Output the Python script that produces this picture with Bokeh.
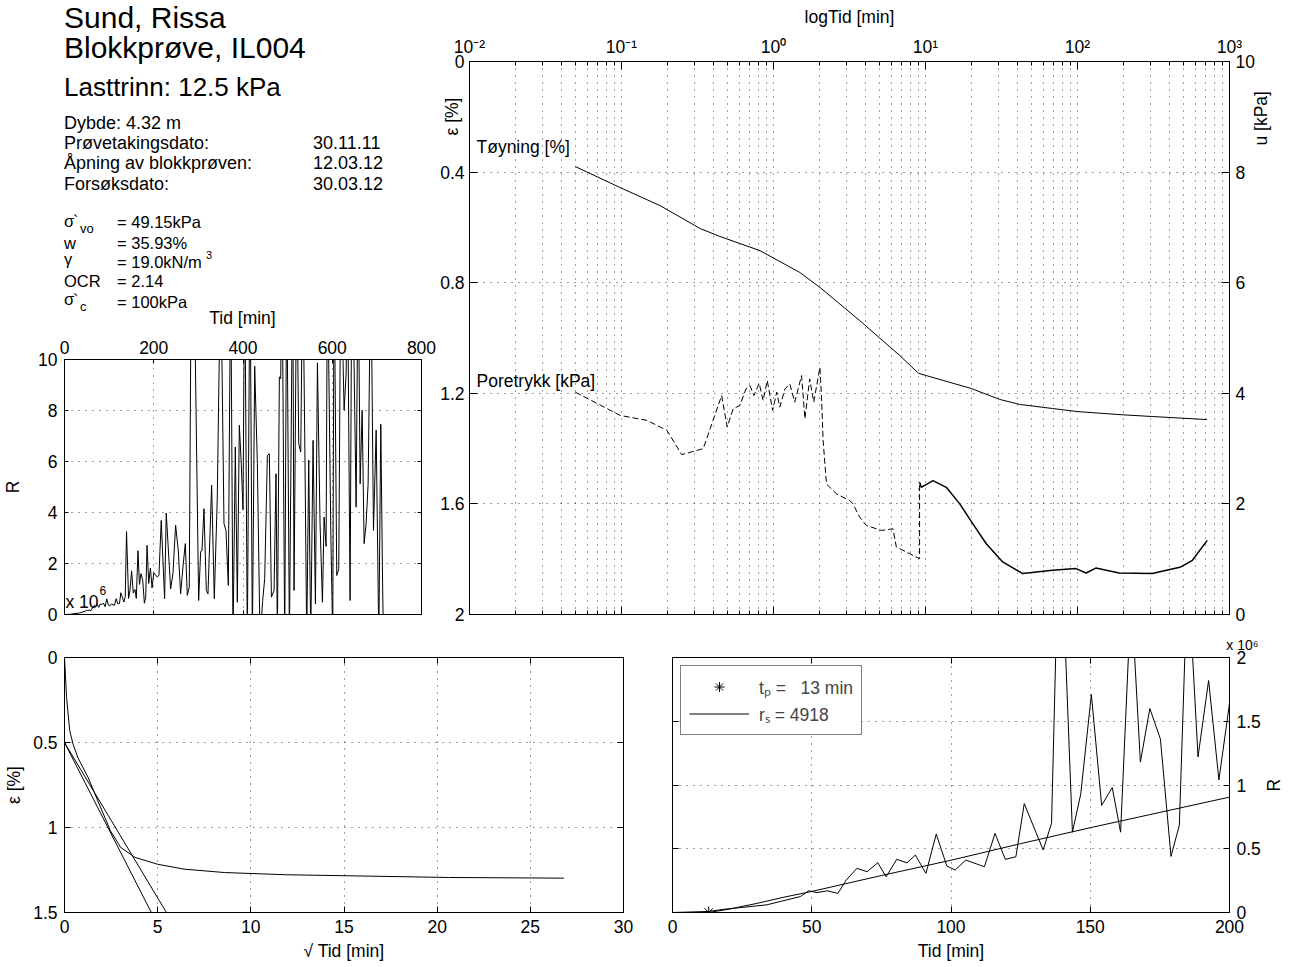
import math
from bokeh.plotting import figure
from bokeh.models import (Range1d, LinearAxis, LogAxis, FixedTicker, Label, Legend, LegendItem,
                          Div, Title)
from bokeh.layouts import row, column
from bokeh.embed import file_html
from bokeh.resources import INLINE
from bokeh.core.properties import value

FONT = "Liberation Sans"
TICK_PX = "17.5px"

# ---------------- data ----------------
# main plot: strain (%) vs log time (min)
strain_tid = [0.0497, 0.098, 0.179, 0.329, 0.445, 0.815, 1.49, 2.02, 3.69, 6.76, 9.01,
              20.1, 30.7, 41.5, 68.4, 99.8, 188, 310, 711]
strain_pct = [0.380, 0.456, 0.521, 0.604, 0.633, 0.684, 0.763, 0.817, 0.937, 1.063, 1.128,
              1.183, 1.222, 1.240, 1.255, 1.266, 1.277, 1.284, 1.295]

# pore pressure (kPa) - sparse early part (dashed) and dense late part
pore1_tid = [0.0497, 0.098, 0.147, 0.199, 0.249, 0.345, 0.456, 0.496, 0.543, 0.601,
             0.659, 0.700, 0.743, 0.805, 0.855, 0.910, 0.987, 1.05, 1.10, 1.19,
             1.28, 1.38, 1.53, 1.61, 1.73, 1.84, 2.02, 2.07, 2.12, 2.23,
             2.35, 2.60, 3.17, 3.32, 3.69, 4.08, 5.13, 6.11, 6.43, 7.48, 9.14, 9.14]
pore1_kpa = [4.02, 3.60, 3.51, 3.33, 2.89, 3.00, 3.96, 3.39, 3.72, 3.78,
             4.08, 4.14, 3.96, 4.18, 3.87, 4.23, 3.69, 4.02, 3.75, 4.08,
             4.17, 3.84, 4.32, 3.54, 4.26, 3.84, 4.47, 3.93, 3.15, 2.36,
             2.30, 2.18, 2.06, 2.01, 1.76, 1.61, 1.52, 1.55, 1.22, 1.13, 1.01, 2.39]
pore2_tid = [9.14, 9.38, 11.2, 13.7, 16.8, 20.5, 25.1, 32.2, 43.6, 68.4, 97.8, 114, 132,
             188, 310, 479, 570, 714]
pore2_kpa = [2.39, 2.30, 2.42, 2.30, 2.00, 1.64, 1.28, 0.95, 0.74, 0.80, 0.83, 0.75, 0.84,
             0.75, 0.74, 0.86, 0.98, 1.34]

# R (x 10^6) vs time (min)
r_tid = [0, 12.8, 18.8, 33.8, 45.9, 48.9, 51.9, 55.6, 59.4, 62.4, 66.2, 69.9, 73.7, 76.7,
         80.5, 84.2, 87.2, 91.0, 94.7, 98.5, 101.5, 105.3, 112.0, 115.8, 119.5, 123.3, 126.3,
         133.1, 136.1, 139.0, 143.6, 146.6, 150.4, 154.1, 157.9, 160.9, 164.7, 168.0, 171.4,
         175.2, 179.0, 182.0, 185.0, 188.7, 192.5, 196.2, 200.0, 207.9, 211.6, 216.8, 224.3,
         228.0, 237.8, 243.0, 249.0, 255.0, 260.2, 266.2, 270.7, 275.2, 279.6, 284.1, 290.1,
         300.6, 305.1, 308.1, 312.5, 317.8, 321.5, 329.7, 335.7, 342.4, 349.9, 357.4, 361.9,
         367.1, 372.4, 377.6, 382.8, 387.3, 391.8, 396.3, 400.0, 403.8, 409.7, 415.7, 421.0,
         426.2, 432.2, 438.2, 444.1, 448.6, 454.6, 459.1, 463.6, 469.6, 474.0, 477.0, 481.5,
         484.5, 487.5, 493.5, 498.0, 504.0, 511.4, 514.4, 520.4, 524.9, 529.4, 533.9, 538.3,
         542.8, 547.3, 551.8, 557.0, 562.3, 566.8, 572.7, 578.0, 581.7, 586.2, 589.2, 596.7,
         601.1, 604.1, 610.1, 614.6, 619.1, 626.6, 631.1, 634.0, 640.0, 643.8, 649.0, 653.5,
         658.0, 662.5, 667.0, 671.4, 675.9, 680.4, 686.4, 692.4, 698.4, 704.3, 708.8, 712.8,
         714.8]
r_val = [0, 0.008, 0.026, 0.06, 0.125, 0.17, 0.156, 0.17, 0.15, 0.255, 0.346, 0.32, 0.39, 0.28,
         0.417, 0.39, 0.45, 0.307, 0.615, 0.365, 0.333, 0.411, 0.359, 0.62, 0.417, 0.437, 0.854,
         0.49, 0.70, 3.25, 0.63, 0.93, 1.71, 0.84, 0.98, 0.63, 2.5, 1.18, 1.60,
         1.36, 0.44, 0.685, 2.71, 1.22, 1.82, 1.04, 1.64, 1.47, 1.53, 3.69, 0.62,
         3.98, 1.0, 1.6, 3.5, 2.5, 0.81, 2.0, 2.78, 0.75, 1.07, 14, 14,
         0.55, 2.47, 2.5, 4.15, 0.94, 0.81, 5.07, 0.62, 4.6, 14, 3.56, 3.3,
         1.14, 14, -1, 6.57, 0.48, 7.42, 5.85, 4.11, 14, -1, 14, -1,
         9.74, 5.92, -1, 0.55, 1.4, 6.24, 6.3, 0.68, 0.94, 5.52, -1, 9.32,
         9.25, 14, -1, 14, -1, 14, 0.94, 14, 6.7, 6.37, 14, 7.1,
         -1, 6.05, -1, 6.83, 0.42, 9.87, 3.56, 0.48, 3.82, 2.67, 14, 3.3,
         -1, 14, 1.53, 1.79, 14, 8.01, 9.45, 14, 0.55, 14, 9.71, 4.21,
         14, 5.13, 8.01, 2.78, 3.56, 5.13, 14, 3.3, 7.23, -1, 7.46, 1.2,
         -1]

# fitted line r_s and t_p
fit_tid = [13, 20, 30, 40, 50, 75, 100, 125, 150, 175, 200]
fit_val = [0, 0.025, 0.07, 0.12, 0.165, 0.29, 0.41, 0.54, 0.665, 0.785, 0.905]
tp_min = 13
tp_R = 0
rs_value = 4918

# strain vs sqrt(time)
sqrt_tid = [0, 0.11, 0.28, 0.46, 0.72, 1.27, 1.93, 2.47, 3.02, 3.79, 4.99, 6.42, 8.6, 11.9,
            16.3, 20.6, 26.8]
sqrt_strain = [0, 0.235, 0.43, 0.51, 0.59, 0.706, 0.88, 1.02, 1.118, 1.176, 1.216, 1.245,
               1.265, 1.278, 1.286, 1.294, 1.298]
tangent1_x = [0, 4.66]
tangent1_y = [0.5, 1.5]
tangent2_x = [0, 5.47]
tangent2_y = [0.5, 1.5]

# ticks / labels
log_decades = [0.01, 0.1, 1, 10, 100, 1000]
log_labels = ["10⁻²", "10⁻¹", "10⁰", "10¹", "10²", "10³"]
log_minor = [m * 10.0 ** e for e in range(-2, 3) for m in range(2, 10)]
eps_ticks = [0, 0.4, 0.8, 1.2, 1.6, 2]
u_ticks = [0, 2, 4, 6, 8, 10]
r_x_ticks = [0, 200, 400, 600, 800]
r_y_ticks = [0, 2, 4, 6, 8, 10]
bl_x_ticks = [0, 5, 10, 15, 20, 25, 30]
bl_y_ticks = [0, 0.5, 1, 1.5]
br_x_ticks = [0, 50, 100, 150, 200]
br_y_ticks = [0, 0.5, 1, 1.5, 2]

info_lines = [
    (64, 28.3, "Sund, Rissa", 30),
    (64, 58.3, "Blokkprøve, IL004", 30),
    (64, 95.7, "Lasttrinn: 12.5 kPa", 26),
    (64, 128.7, "Dybde: 4.32 m", 18),
    (64, 149, "Prøvetakingsdato:", 18), (313, 149, "30.11.11", 18),
    (64, 169.5, "Åpning av blokkprøven:", 18), (313, 169.5, "12.03.12", 18),
    (64, 190, "Forsøksdato:", 18), (313, 190, "30.03.12", 18),
    (64, 226.5, "σ", 16.5), (73, 227, "`", 16), (80, 233, "vo", 13), (117, 228, "= 49.15kPa", 16.5),
    (64, 248.5, "w", 16.5), (117, 249, "= 35.93%", 16.5),
    (64, 265, "γ", 16.5), (117, 268, "= 19.0kN/m", 16.5), (206, 259, "3", 11),
    (64, 287, "OCR", 16.5), (117, 287, "= 2.14", 16.5),
    (64, 305, "σ", 16.5), (73, 306, "`", 16), (80, 311, "c", 13), (117, 308, "= 100kPa", 16.5),
]


# ---------------- helpers ----------------
def base_fig(w, h, bl, br, bt, bb, xr, yr, xtype="linear"):
    p = figure(width=w, height=h, x_range=xr, y_range=yr, x_axis_type=xtype,
               x_axis_location=None, y_axis_location=None,
               output_backend="svg", toolbar_location=None,
               min_border_left=bl, min_border_right=br, min_border_top=bt, min_border_bottom=bb)
    p.outline_line_color = "black"
    p.outline_line_width = 1
    p.background_fill_color = "white"
    p.border_fill_color = "white"
    return p


def add_axis(p, side, ticks, minor=None, labels=True, tick_in=6, minor_in=0, standoff=6,
             log=False, y_range_name=None, overrides=None):
    kw = {}
    if y_range_name:
        kw["y_range_name"] = y_range_name
    ax = LogAxis(**kw) if log else LinearAxis(**kw)
    ax.ticker = FixedTicker(ticks=ticks, minor_ticks=minor or [])
    ax.major_tick_in = tick_in
    ax.major_tick_out = 0
    ax.minor_tick_in = minor_in
    ax.minor_tick_out = 0
    ax.axis_line_color = "black"
    ax.major_tick_line_color = "black"
    ax.minor_tick_line_color = "black"
    ax.major_label_text_font = FONT
    ax.major_label_text_color = "black"
    ax.axis_label_text_font = FONT
    ax.axis_label_text_font_style = "normal"
    ax.axis_label_text_font_size = TICK_PX
    ax.axis_label_text_color = "black"
    if labels:
        ax.major_label_text_font_size = TICK_PX
        ax.major_label_standoff = standoff
        ax.major_label_overrides = overrides or {t: f"{t:g}" for t in ticks}
    else:
        ax.major_label_overrides = {t: "" for t in ticks}
        ax.major_label_text_font_size = "1px"
        ax.major_label_text_alpha = 0
        ax.major_label_standoff = 0
    p.add_layout(ax, side)
    return ax


def label_axis(p, side, tick, text, standoff, orientation, y_range_name=None):
    """An extra axis with one tick whose label is the axis title."""
    kw = {"y_range_name": y_range_name} if y_range_name else {}
    ax = LinearAxis(**kw)
    ax.ticker = FixedTicker(ticks=[tick])
    ax.major_label_overrides = {tick: text}
    ax.major_label_orientation = orientation
    ax.major_label_standoff = standoff
    ax.major_label_text_font = FONT
    ax.major_label_text_font_size = TICK_PX
    ax.major_label_text_color = "black"
    ax.major_tick_in = 0
    ax.major_tick_out = 0
    ax.minor_tick_in = 0
    ax.minor_tick_out = 0
    ax.axis_line_color = None
    ax.major_tick_line_color = None
    ax.minor_tick_line_color = None
    p.add_layout(ax, side)
    return ax


def style_grid(p, xt, yt, xminor=None):
    p.xgrid.ticker = FixedTicker(ticks=xt, minor_ticks=xminor or [])
    p.ygrid.ticker = FixedTicker(ticks=yt)
    for g in (p.xgrid, p.ygrid):
        g.grid_line_color = "black"
        g.grid_line_dash = "1 6"
        g.grid_line_alpha = 0.75
        g.grid_line_width = 1
    if xminor:
        p.xgrid.minor_grid_line_color = "black"
        p.xgrid.minor_grid_line_dash = "1 6"
        p.xgrid.minor_grid_line_alpha = 0.75


def txt(p, fl, fb, px, py, text, size, align="left"):
    p.add_layout(Label(x=px - fl, y=fb - py, x_units="screen", y_units="screen", text=text,
                       text_font=FONT, text_font_size=f"{size}px", text_color="black",
                       text_align=align, text_baseline="middle"))


# ---------------- info text block (HTML) ----------------
parts = []
for x, base, text, size in info_lines:
    top = base - 0.8465 * size
    parts.append(f'<div style="position:absolute;left:{x}px;top:{top:.1f}px;font-size:{size}px;'
                 f'line-height:{size}px;white-space:nowrap;">{text}</div>')
parts.append(f'<div style="position:absolute;left:142.5px;width:200px;text-align:center;'
             f'top:{325 - 0.8465 * 17.5:.1f}px;font-size:17.5px;line-height:17.5px;'
             f'white-space:nowrap;">Tid [min]</div>')
info_html = ('<div style="position:relative;width:436px;height:333px;'
             f'font-family:\'{FONT}\';color:black;">' + "".join(parts) + "</div>")
info_div = Div(text=info_html, width=436, height=333, margin=0)

# ---------------- R overview ----------------
FL_R, FB_R = 64, 614
fig_r = base_fig(436, 293, 64, 15, 26, 12, Range1d(0, 800), Range1d(0, 10))
add_axis(fig_r, "above", r_x_ticks, tick_in=4, standoff=6)
add_axis(fig_r, "below", r_x_ticks, labels=False, tick_in=4)
ax_rl = add_axis(fig_r, "left", r_y_ticks, tick_in=4, standoff=7)
ax_rl.axis_label = "R"
ax_rl.axis_label_standoff = 12
add_axis(fig_r, "right", r_y_ticks, labels=False, tick_in=4)
style_grid(fig_r, [200, 400, 600], [2, 4, 6, 8])
fig_r.line(r_tid, r_val, line_color="black", line_width=1)
txt(fig_r, FL_R, FB_R, 65, 601, "x 10", 17.5)
txt(fig_r, FL_R, FB_R, 99, 590, "6", 12)

# ---------------- main log-time plot ----------------
FL_M, FB_M = 469, 614
fig_m = base_fig(854, 626, 33, 61, 61, 12, Range1d(0.01, 1000), Range1d(2, 0), xtype="log")
fig_m.extra_y_ranges = {"u": Range1d(0, 10)}
ax_top = add_axis(fig_m, "above", log_decades, minor=log_minor, tick_in=8, minor_in=4, log=True,
                  standoff=5, overrides=dict(zip(log_decades, log_labels)))
ax_top.axis_label = "logTid [min]"
ax_top.axis_label_standoff = 7
add_axis(fig_m, "below", log_decades, minor=log_minor, labels=False, tick_in=8, minor_in=4, log=True)
add_axis(fig_m, "left", eps_ticks, tick_in=8, standoff=5)
label_axis(fig_m, "left", 0.199, "ε [%]", -25, "vertical")
add_axis(fig_m, "right", u_ticks, tick_in=8, standoff=6, y_range_name="u")
label_axis(fig_m, "right", 8.48, "u [kPa]", 4, math.pi / 2, y_range_name="u")
style_grid(fig_m, log_decades, [0.4, 0.8, 1.2, 1.6], xminor=log_minor)

fig_m.line(strain_tid, strain_pct, line_color="black", line_width=1)
fig_m.line(pore1_tid, pore1_kpa, y_range_name="u", line_color="black", line_width=1,
           line_dash="6 3")
fig_m.line(pore2_tid, pore2_kpa, y_range_name="u", line_color="black", line_width=1.5)
txt(fig_m, FL_M, FB_M, 476, 146, "Tøyning [%]", 17.5)
txt(fig_m, FL_M, FB_M, 476, 380, "Poretrykk [kPa]", 17.5)

# ---------------- strain vs sqrt(time) ----------------
fig_bl = base_fig(647, 338, 64, 24, 31, 52, Range1d(0, 30), Range1d(1.5, 0))
ax_blb = add_axis(fig_bl, "below", bl_x_ticks, tick_in=6, standoff=7)
ax_blb.axis_label = "√ Tid [min]"
ax_blb.axis_label_standoff = 5
add_axis(fig_bl, "above", bl_x_ticks, labels=False, tick_in=6)
ax_bll = add_axis(fig_bl, "left", bl_y_ticks, tick_in=6, standoff=7)
ax_bll.axis_label = "ε [%]"
ax_bll.axis_label_standoff = 6
add_axis(fig_bl, "right", bl_y_ticks, labels=False, tick_in=6)
style_grid(fig_bl, [5, 10, 15, 20, 25], [0.5, 1])
fig_bl.line(sqrt_tid, sqrt_strain, line_color="black", line_width=1)
fig_bl.line(tangent1_x, tangent1_y, line_color="black", line_width=1)
fig_bl.line(tangent2_x, tangent2_y, line_color="black", line_width=1)

# ---------------- R vs time (0-200) ----------------
fig_br = base_fig(651, 338, 25, 69, 31, 52, Range1d(0, 200), Range1d(0, 2))
ax_brb = add_axis(fig_br, "below", br_x_ticks, tick_in=6, standoff=7)
ax_brb.axis_label = "Tid [min]"
ax_brb.axis_label_standoff = 5
add_axis(fig_br, "above", br_x_ticks, labels=False, tick_in=6)
add_axis(fig_br, "left", br_y_ticks, labels=False, tick_in=6)
add_axis(fig_br, "right", br_y_ticks, tick_in=6, standoff=7)
label_axis(fig_br, "right", 0.95, "R", 10, math.pi / 2)
style_grid(fig_br, [50, 100, 150], [0.5, 1, 1.5])
fig_br.line(r_tid, r_val, line_color="black", line_width=1)
fit_r = fig_br.line(fit_tid, fit_val, line_color="black", line_width=1)
star_r = fig_br.scatter([tp_min], [tp_R], marker="asterisk", size=12, line_color="black",
                        line_width=1)
legend = Legend(items=[
    LegendItem(label=value(f"tₚ =\u00a0\u00a0 {tp_min} min"), renderers=[star_r]),
    LegendItem(label=value(f"rₛ = {rs_value}"), renderers=[fit_r]),
], location="top_left")
legend.margin = 8
legend.padding = 8
legend.spacing = 2
legend.border_line_color = "black"
legend.border_line_width = 1
legend.background_fill_color = "white"
legend.background_fill_alpha = 1
legend.label_text_font = FONT
legend.label_text_font_size = TICK_PX
legend.glyph_width = 60
legend.glyph_height = 25
legend.label_height = 25
legend.label_standoff = 10
fig_br.add_layout(legend)
fig_br.add_layout(Title(text="x 10⁶", align="right", offset=-29, standoff=10,
                        text_font=FONT, text_font_size="14px", text_font_style="normal",
                        text_color="black"), "above")

layout = column(row(column(info_div, fig_r), fig_m), row(fig_bl, fig_br))
open("out.html", "w").write(file_html(layout, INLINE))
